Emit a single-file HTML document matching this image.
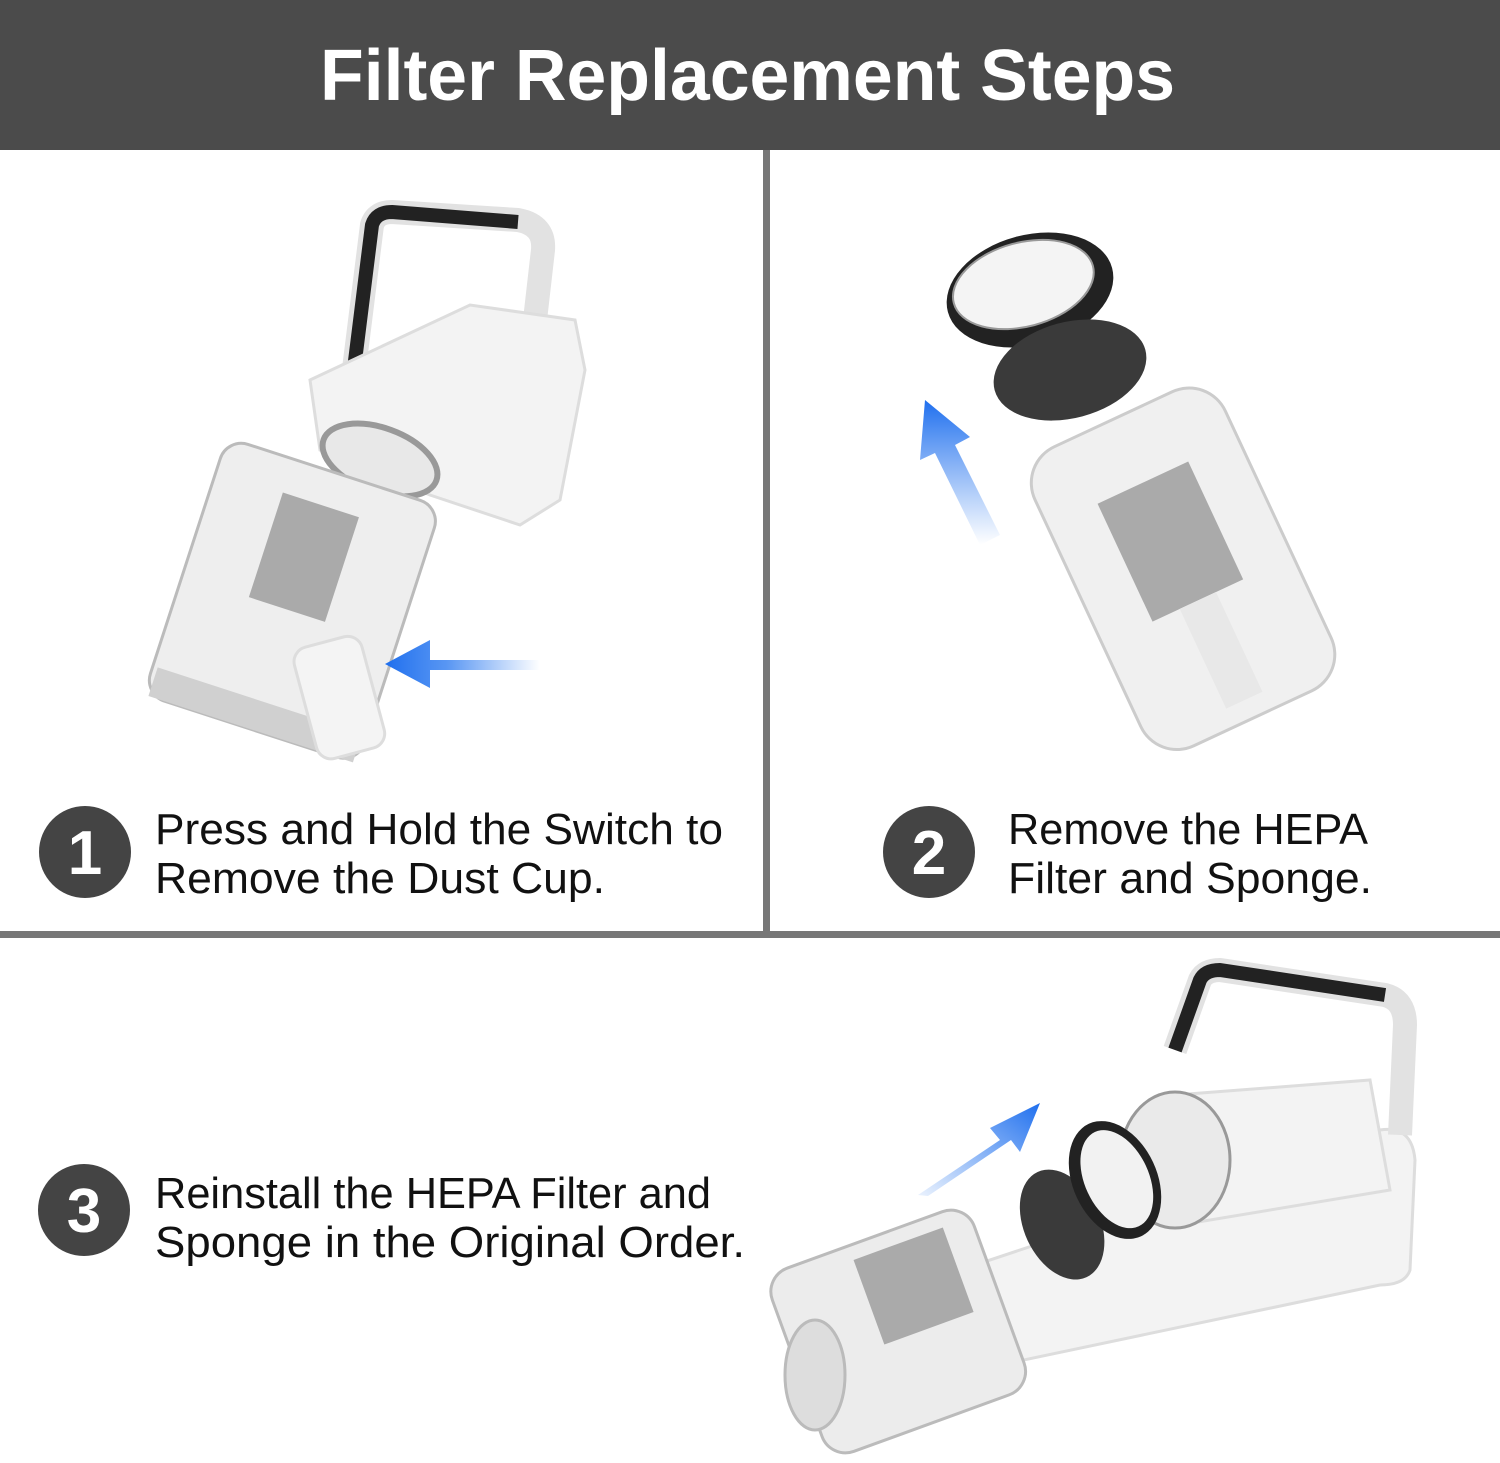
<!DOCTYPE html>
<html><head><meta charset="utf-8"><style>
html,body{margin:0;padding:0;background:#fff;}
svg{display:block}
text{font-family:"Liberation Sans",sans-serif;}
</style></head><body>
<svg width="1500" height="1463" viewBox="0 0 1500 1463" xmlns="http://www.w3.org/2000/svg">
<defs>
<linearGradient id="ga" x1="1" y1="0" x2="0" y2="0"><stop offset="0" stop-color="#2f7cf0" stop-opacity="0"/><stop offset="0.6" stop-color="#2f7cf0" stop-opacity="0.8"/><stop offset="1" stop-color="#1f6fee"/></linearGradient>
<linearGradient id="gb" x1="0" y1="1" x2="0" y2="0"><stop offset="0" stop-color="#2f7cf0" stop-opacity="0"/><stop offset="1" stop-color="#1f6fee"/></linearGradient>
<linearGradient id="gc" x1="0" y1="1" x2="1" y2="0"><stop offset="0" stop-color="#2f7cf0" stop-opacity="0.1"/><stop offset="1" stop-color="#1f6fee"/></linearGradient>
</defs>
<rect x="0" y="0" width="1500" height="150" fill="#4b4b4b"/>
<text x="320" y="100" font-size="72" font-weight="bold" fill="#fff" textLength="855" lengthAdjust="spacingAndGlyphs">Filter Replacement Steps</text>
<rect x="763" y="150" width="7" height="785" fill="#777"/>
<rect x="0" y="931" width="1500" height="7" fill="#777"/>

<!-- vacuum 1 -->
<path d="M352,385 L372,225 Q376,212 392,212 L518,220 Q545,225 543,250 L535,320" fill="none" stroke="#e2e2e2" stroke-width="24" stroke-linejoin="round"/>
<path d="M352,385 L372,225 Q376,212 392,212 L518,222" fill="none" stroke="#222" stroke-width="14" stroke-linejoin="round"/>
<path d="M310,380 L470,305 L575,320 L585,370 L560,500 L520,525 L430,495 L320,450 Z" fill="#f3f3f3" stroke="#ddd" stroke-width="3"/>
<ellipse cx="380" cy="460" rx="60" ry="32" transform="rotate(20 380 460)" fill="#e8e8e8" stroke="#999" stroke-width="6"/>
<g transform="rotate(18 290 600)">
<rect x="180" y="465" width="225" height="270" rx="22" fill="#eeeeee" stroke="#bbb" stroke-width="3"/>
<rect x="250" y="500" width="80" height="110" fill="#aaa"/>
<rect x="185" y="705" width="215" height="30" fill="#d0d0d0"/>
</g>
<g transform="rotate(-15 340 700)"><rect x="305" y="640" width="70" height="115" rx="15" fill="#f4f4f4" stroke="#ddd" stroke-width="3"/></g>
<path d="M540 660 H430 V640 L385 664 L430 688 V670 H540 Z" fill="url(#ga)"/>

<!-- step 2 -->
<g transform="rotate(-15 1030 290)"><ellipse cx="1030" cy="290" rx="85" ry="55" fill="#222"/><ellipse cx="1025" cy="283" rx="72" ry="42" fill="#f4f4f4" stroke="#999" stroke-width="2"/></g>
<g transform="rotate(-15 1070 370)"><ellipse cx="1070" cy="370" rx="78" ry="48" fill="#3a3a3a"/></g>
<g transform="rotate(-25 1190 560)">
<rect x="1075" y="400" width="210" height="330" rx="40" fill="#f0f0f0" stroke="#ccc" stroke-width="3"/>
<rect x="1130" y="470" width="100" height="130" fill="#aaa"/>
<rect x="1160" y="600" width="40" height="110" fill="#e8e8e8"/>
</g>
<path d="M1000 535 L955 445 L970 437 L925 400 L920 460 L935 453 L980 545 Z" fill="url(#gb)"/>

<!-- step 3 vacuum -->
<path d="M900,1290 L1380,1130 Q1412,1125 1415,1160 L1410,1270 Q1405,1285 1380,1285 L1000,1365 Z" fill="#f3f3f3" stroke="#ddd" stroke-width="3"/>
<path d="M1175,1050 L1200,980 Q1205,970 1220,970 L1385,995 Q1405,1000 1405,1025 L1400,1135" fill="none" stroke="#e2e2e2" stroke-width="24" stroke-linejoin="round"/>
<path d="M1175,1050 L1200,980 Q1205,970 1220,970 L1385,995" fill="none" stroke="#222" stroke-width="14" stroke-linejoin="round"/>
<path d="M1175,1095 L1370,1080 L1390,1190 L1180,1225 Z" fill="#f3f3f3" stroke="#ddd" stroke-width="3"/>
<ellipse cx="1175" cy="1160" rx="55" ry="68" fill="#eaeaea" stroke="#999" stroke-width="3"/>
<g transform="rotate(-25 1060 1220)"><ellipse cx="1060" cy="1225" rx="38" ry="58" fill="#3a3a3a"/></g>
<g transform="rotate(-25 1115 1180)"><ellipse cx="1115" cy="1180" rx="42" ry="62" fill="#222"/><ellipse cx="1117" cy="1180" rx="32" ry="52" fill="#f2f2f2"/></g>
<g transform="rotate(-20 895 1330)">
<rect x="790" y="1235" width="215" height="195" rx="25" fill="#ececec" stroke="#bbb" stroke-width="3"/>
<rect x="880" y="1250" width="95" height="90" fill="#aaa"/>
</g>
<ellipse cx="815" cy="1375" rx="30" ry="55" fill="#ddd" stroke="#bbb" stroke-width="3"/>
<path d="M918 1195 L1000 1140 L990 1128 L1040 1103 L1020 1152 L1011 1140 L928 1196 Z" fill="url(#gc)"/>

<!-- circles -->
<circle cx="85" cy="852" r="46" fill="#444"/>
<text x="85" y="874" font-size="62" font-weight="bold" fill="#fff" text-anchor="middle">1</text>
<circle cx="929" cy="852" r="46" fill="#444"/>
<text x="929" y="874" font-size="62" font-weight="bold" fill="#fff" text-anchor="middle">2</text>
<circle cx="84" cy="1210" r="46" fill="#444"/>
<text x="84" y="1232" font-size="62" font-weight="bold" fill="#fff" text-anchor="middle">3</text>

<g font-size="44" fill="#111">
<text x="155" y="844" textLength="568" lengthAdjust="spacingAndGlyphs">Press and Hold the Switch to</text>
<text x="155" y="893" textLength="450" lengthAdjust="spacingAndGlyphs">Remove the Dust Cup.</text>
<text x="1008" y="844" textLength="360" lengthAdjust="spacingAndGlyphs">Remove the HEPA</text>
<text x="1008" y="893" textLength="364" lengthAdjust="spacingAndGlyphs">Filter and Sponge.</text>
<text x="155" y="1208" textLength="556" lengthAdjust="spacingAndGlyphs">Reinstall the HEPA Filter and</text>
<text x="155" y="1257" textLength="590" lengthAdjust="spacingAndGlyphs">Sponge in the Original Order.</text>
</g>
</svg>
</body></html>
